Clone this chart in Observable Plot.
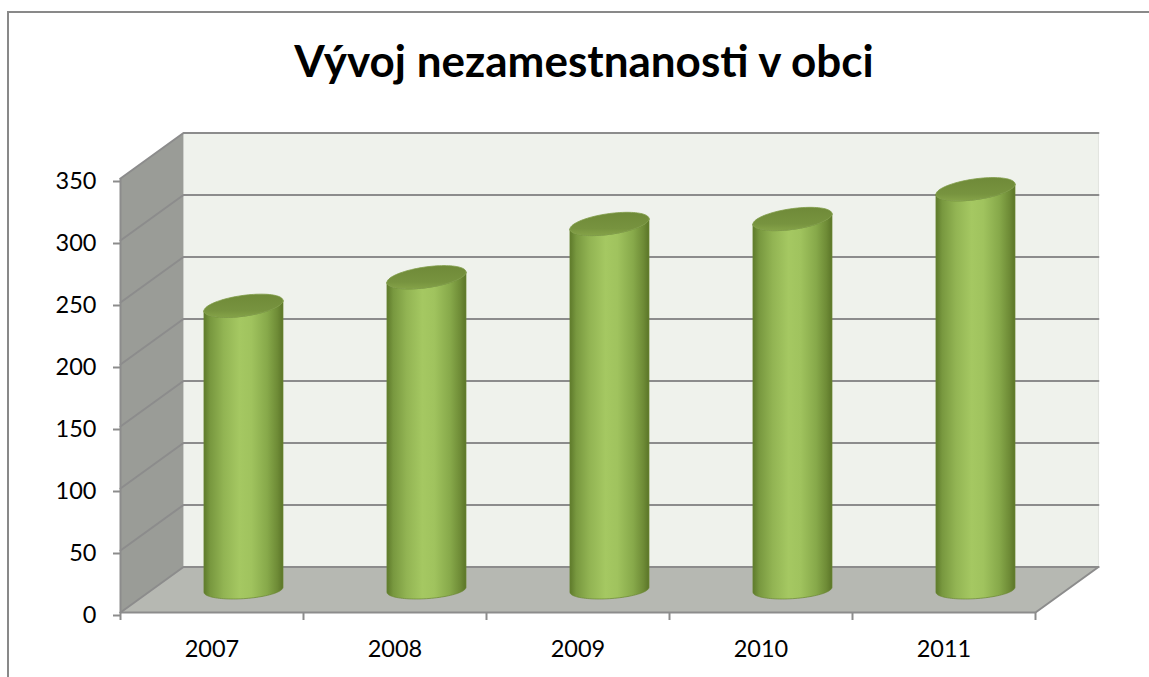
<!DOCTYPE html>
<html>
<head>
<meta charset="utf-8">
<script src="https://cdn.jsdelivr.net/npm/d3@7"></script>
<script src="https://cdn.jsdelivr.net/npm/@observablehq/plot@0.6"></script>
<style>
  html, body { margin: 0; padding: 0; background: #fff; overflow: hidden; }
  body { width: 1149px; height: 677px; position: relative; overflow: hidden; }
  #frame { position: absolute; left: 7px; top: 11px; width: 1160px; height: 700px; border: 2px solid #898989; box-sizing: border-box; }
  #title { position: absolute; left: 0; top: 38px; width: 1149px; padding-left: 19px; box-sizing: border-box; text-align: center;
           font-family: Lato, "Open Sans", sans-serif; font-weight: 700; font-size: 44px; line-height: 44px; color: #000; white-space: nowrap; }
  #chart { position: absolute; left: 0; top: 100px; width: 1149px; height: 577px; overflow: hidden; }
</style>
</head>
<body>
<div id="frame"></div>
<div id="title">Vývoj nezamestnanosti v obci</div>
<div id="chart"></div>
<script>
// ---- data ----
const years = ["2007", "2008", "2009", "2010", "2011"];
const values = [229, 252, 295, 299, 323];
const yTicks = [0, 50, 100, 150, 200, 250, 300, 350];

// ---- 3D oblique depth, in data units ----
const N = years.length;
const YMAX = 350;
const DX = 0.344;   // depth shift along x (category units)
const DY = 36.7;    // depth shift along y (value units)

const backWall = [[DX, DY], [N + DX, DY], [N + DX, YMAX + DY], [DX, YMAX + DY]].map(([x, y]) => ({x, y}));
const sideWall = [[0, 0], [DX, DY], [DX, YMAX + DY], [0, YMAX]].map(([x, y]) => ({x, y}));
const floor = [[0, 0], [N, 0], [N + DX, DY], [DX, DY]].map(([x, y]) => ({x, y}));
const grid = yTicks.flatMap(v => [
  {x: 0, y: v, z: v}, {x: DX, y: v + DY, z: v}, {x: N + DX, y: v + DY, z: v}
]);
const floorEdge = [{x: 0, y: 0}, {x: N, y: 0}, {x: N + DX, y: DY}];

// cylinder geometry
const A = 0.216;               // half width (category units)
const BT = 8.4, KT = 4.2;      // top ellipse half height / tilt (value units)
const BB = 7.2, KB = 2.0;      // bottom ellipse
const STEPS = 48;
const bodies = [], tops = [];
years.forEach((yr, i) => {
  const cx = i + 0.5 + DX / 2;
  const base = DY / 2;
  const top = DY / 2 + values[i];
  const pts = [];
  pts.push({x: cx - A, y: top - KT});
  for (let s = 0; s <= STEPS; s++) {
    const t = Math.PI + Math.PI * s / STEPS;
    pts.push({x: cx + A * Math.cos(t), y: base + KB * Math.cos(t) + BB * Math.sin(t)});
  }
  for (let s = 0; s <= STEPS; s++) {
    const t = -Math.PI * s / STEPS;
    pts.push({x: cx + A * Math.cos(t), y: top + KT * Math.cos(t) + BT * Math.sin(t)});
  }
  pts.forEach(p => { p.id = yr; bodies.push(p); });
  for (let s = 0; s <= 2 * STEPS; s++) {
    const t = Math.PI * s / STEPS;
    tops.push({id: yr, x: cx + A * Math.cos(t), y: top + KT * Math.cos(t) + BT * Math.sin(t)});
  }
});

const gridColor = "#8c8c8c";

const svg = Plot.plot({
  width: 1149,
  height: 577,
  marginLeft: 120,
  marginRight: 114,
  marginTop: 78,
  marginBottom: 65,
  style: {fontFamily: "Lato, 'Open Sans', sans-serif", fontSize: "23.5px", color: "#000", background: "transparent"},
  x: {type: "linear", domain: [0, N], label: null},
  y: {type: "linear", domain: [0, YMAX], label: null},
  marks: [
    Plot.line(backWall, {x: "x", y: "y", fill: "#eff2ec", stroke: "#e2e4df", strokeWidth: 1}),
    Plot.line(sideWall, {x: "x", y: "y", fill: "#9a9c97", stroke: "none"}),
    Plot.line(floor, {x: "x", y: "y", fill: "#b6b8b2", stroke: "none"}),
    Plot.line(grid, {x: "x", y: "y", z: "z", stroke: gridColor, strokeWidth: 2}),
    Plot.line(floorEdge, {x: "x", y: "y", stroke: gridColor, strokeWidth: 2}),
    Plot.ruleX([0], {y1: 0, y2: YMAX, stroke: gridColor, strokeWidth: 2}),
    Plot.line(bodies, {x: "x", y: "y", z: "id", fill: "url(#cylBody)", stroke: "#6a8732", strokeWidth: 0.7}),
    Plot.line(tops, {x: "x", y: "y", z: "id", fill: "url(#cylTop)", stroke: "#7f9c47", strokeWidth: 0.8}),
    Plot.axisY(yTicks, {tickSize: 7, tickPadding: 17, stroke: gridColor, strokeWidth: 2, dy: 3, fill: "#000", label: null, tickFormat: d => String(d)}),
    Plot.axisX(d3.range(N + 1), {tickSize: 8, tickFormat: () => "", stroke: gridColor, strokeWidth: 2, label: null}),
    Plot.axisX(d3.range(N).map(i => i + 0.5), {tickSize: 0, tickPadding: 28, fill: "#000", label: null, tickFormat: d => years[Math.floor(d)]})
  ]
});

svg.insertAdjacentHTML("afterbegin", `
<defs>
  <linearGradient id="cylBody" x1="0" x2="1" y1="0" y2="0">
    <stop offset="0" stop-color="#5e7a2b"/>
    <stop offset="0.08" stop-color="#78983f"/>
    <stop offset="0.25" stop-color="#92b453"/>
    <stop offset="0.45" stop-color="#a5c862"/>
    <stop offset="0.6" stop-color="#a0c35e"/>
    <stop offset="0.8" stop-color="#87a94a"/>
    <stop offset="0.93" stop-color="#6e8b36"/>
    <stop offset="1" stop-color="#5b7528"/>
  </linearGradient>
  <linearGradient id="cylTop" x1="0" x2="0" y1="0" y2="1">
    <stop offset="0" stop-color="#6f8a38"/>
    <stop offset="0.7" stop-color="#77933f"/>
    <stop offset="1" stop-color="#85a348"/>
  </linearGradient>
</defs>`);

document.getElementById("chart").appendChild(svg);
</script>
</body>
</html>
